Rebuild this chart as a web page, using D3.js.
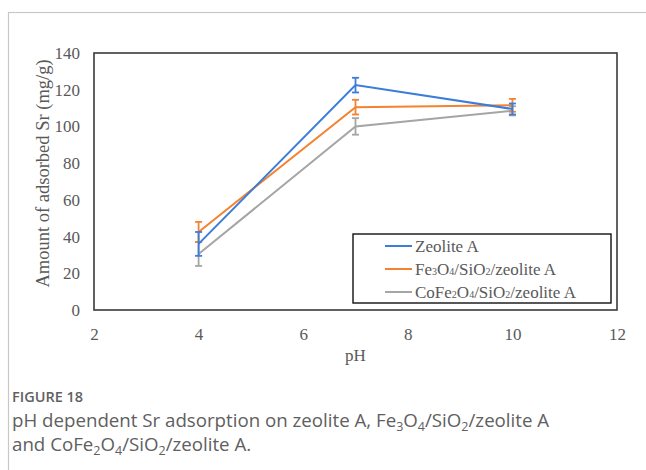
<!DOCTYPE html>
<html>
<head>
<meta charset="utf-8">
<script src="https://cdn.jsdelivr.net/npm/d3@7"></script>
<style>
  body { margin: 0; background: #fff; }
  svg text { font-family: "Liberation Serif", "Times New Roman", serif; fill: #595959; }
  .caption text { font-family: "Open Sans", "Noto Sans", sans-serif; fill: #606060; }
</style>
</head>
<body>
<svg id="chart" width="646" height="470"></svg>
<script>
// data
let phValues = [4, 7, 10];
let seriesNames = ["Zeolite A", "Fe3O4/SiO2/zeolite A", "CoFe2O4/SiO2/zeolite A"];
let zeoliteA = [36, 122.5, 109.5];
let zeoliteAErr = [6.5, 4, 3];
let fe3o4 = [42.5, 110.5, 111.5];
let fe3o4Err = [5.5, 4, 3.5];
let cofe2o4 = [30.5, 100, 108.5];
let cofe2o4Err = [6.5, 4.5, 2.5];
let xTicks = [2, 4, 6, 8, 10, 12];
let yTicks = [0, 20, 40, 60, 80, 100, 120, 140];
let colors = ["#3b7dd8", "#f5822f", "#a5a5a5"];

let margin = { left: 94, right: 29, top: 53, bottom: 160 };
let w = 646, h = 470;
let plotW = w - margin.left - margin.right;
let plotH = h - margin.top - margin.bottom;

let svg = d3.select("#chart");

// outer panel border (clipped on the right / bottom)
svg.append("rect")
    .attr("x", 8.5).attr("y", 12.5)
    .attr("width", 700).attr("height", 600)
    .attr("fill", "none")
    .attr("stroke", "#c8c8c8")
    .attr("stroke-width", 1.2);

let g = svg.append("g")
    .attr("transform", "translate(" + margin.left + "," + margin.top + ")");

let xScale = d3.scaleLinear().domain([2, 12]).range([0, plotW]);
let yScale = d3.scaleLinear().domain([0, 140]).range([plotH, 0]);

// axes, tick labels only
let xAxis = d3.axisBottom(xScale).tickValues(xTicks).tickSize(0).tickPadding(18);
let yAxis = d3.axisLeft(yScale).tickValues(yTicks).tickSize(0).tickPadding(14);

g.append("g")
    .attr("class", "x axis")
    .attr("transform", "translate(0," + plotH + ")")
    .call(xAxis)
    .call(a => a.select(".domain").remove())
    .selectAll("text").style("font-size", "17px").attr("fill", "#595959");

g.append("g")
    .attr("class", "y axis")
    .call(yAxis)
    .call(a => a.select(".domain").remove())
    .selectAll("text").style("font-size", "17px").attr("fill", "#595959");

// plot frame
g.append("rect")
    .attr("x", 0).attr("y", 0)
    .attr("width", plotW).attr("height", plotH)
    .attr("fill", "none")
    .attr("stroke", "#3a3a3a")
    .attr("stroke-width", 1.6);

// axis titles
g.append("text")
    .attr("x", plotW / 2)
    .attr("y", plotH + 51)
    .attr("text-anchor", "middle")
    .style("font-size", "17px")
    .text("pH");

g.append("text")
    .attr("transform", "translate(-45," + (plotH / 2 - 8) + ") rotate(-90)")
    .attr("text-anchor", "middle")
    .style("font-size", "18.5px")
    .text("Amount of adsorbed Sr (mg/g)");

// build series
let series = seriesNames.map((name, i) => {
    let vals = [zeoliteA, fe3o4, cofe2o4][i];
    let errs = [zeoliteAErr, fe3o4Err, cofe2o4Err][i];
    return {
        name: name,
        color: colors[i],
        values: phValues.map((p, j) => ({ ph: p, v: vals[j], e: errs[j] }))
    };
});

let line = d3.line()
    .x(d => xScale(d.ph))
    .y(d => yScale(d.v));

// draw in reverse so blue sits on top
let sg = g.selectAll(".series")
    .data(series.slice().reverse())
    .enter()
    .append("g")
    .attr("class", "series");

sg.append("path")
    .attr("d", d => line(d.values))
    .attr("fill", "none")
    .attr("stroke", d => d.color)
    .attr("stroke-width", 2);

// error bars
sg.each(function(s) {
    let eg = d3.select(this).selectAll(".err")
        .data(s.values)
        .enter()
        .append("g")
        .attr("stroke", s.color)
        .attr("stroke-width", 1.8);
    eg.append("line")
        .attr("x1", d => xScale(d.ph)).attr("x2", d => xScale(d.ph))
        .attr("y1", d => yScale(d.v - d.e)).attr("y2", d => yScale(d.v + d.e));
    eg.append("line")
        .attr("x1", d => xScale(d.ph) - 3.5).attr("x2", d => xScale(d.ph) + 3.5)
        .attr("y1", d => yScale(d.v + d.e)).attr("y2", d => yScale(d.v + d.e));
    eg.append("line")
        .attr("x1", d => xScale(d.ph) - 3.5).attr("x2", d => xScale(d.ph) + 3.5)
        .attr("y1", d => yScale(d.v - d.e)).attr("y2", d => yScale(d.v - d.e));
});

// legend
let legend = svg.append("g").attr("transform", "translate(353,234)");
legend.append("rect")
    .attr("width", 258).attr("height", 69)
    .attr("fill", "#fff")
    .attr("stroke", "#111")
    .attr("stroke-width", 1.4);

let legendLabels = [
    ["Zeolite A"],
    ["Fe", "3", "O", "4", "/SiO", "2", "/zeolite A"],
    ["CoFe", "2", "O", "4", "/SiO", "2", "/zeolite A"]
];

legendLabels.forEach((parts, i) => {
    let yy = 12 + i * 23;
    legend.append("line")
        .attr("x1", 32).attr("x2", 59)
        .attr("y1", yy).attr("y2", yy)
        .attr("stroke", colors[i])
        .attr("stroke-width", 2);
    let t = legend.append("text")
        .attr("x", 62).attr("y", yy + 5.5)
        .style("font-size", "17px");
    parts.forEach((p, k) => {
        t.append("tspan")
            .style("font-size", k % 2 === 1 ? "10px" : "17px")
            .text(p);
    });
});

// caption
let cap = svg.append("g").attr("class", "caption");
cap.append("text")
    .attr("x", 12).attr("y", 402)
    .style("font-size", "14.5px")
    .style("font-weight", "600")
    .text("FIGURE 18");

function captionLine(y, parts) {
    let t = cap.append("text").attr("x", 12).attr("y", y).style("font-size", "18.7px");
    parts.forEach((p, k) => {
        let ts = t.append("tspan").text(p);
        if (k % 2 === 1) ts.style("font-size", "12.5px").attr("dy", 4);
        else if (k > 0) ts.attr("dy", -4);
    });
}
captionLine(427, ["pH dependent Sr adsorption on zeolite A, Fe", "3", "O", "4", "/SiO", "2", "/zeolite A"]);
captionLine(451, ["and CoFe", "2", "O", "4", "/SiO", "2", "/zeolite A."]);
</script>
</body>
</html>
